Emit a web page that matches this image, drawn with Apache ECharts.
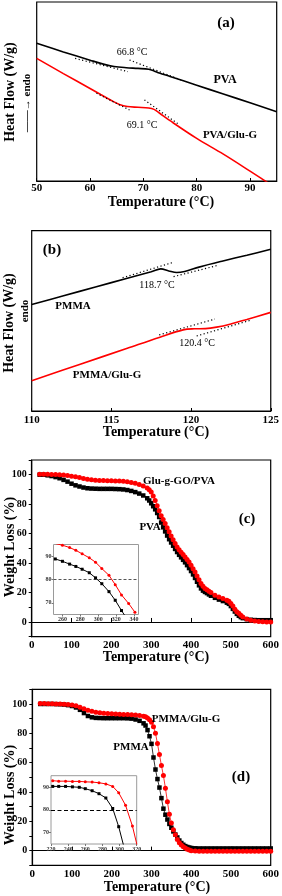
<!DOCTYPE html>
<html><head><meta charset="utf-8">
<script src="https://cdn.jsdelivr.net/npm/echarts@6/dist/echarts.min.js"></script>
<style>html,body{margin:0;padding:0;background:#fff}#c{width:282px;height:896px}</style>
</head><body><div id="c"></div>
<script>
// ---------- Panel (a): DSC, PVA ----------
const aTempPVA = [50, 55, 60, 62.5, 64.5, 66.8, 69, 71, 72, 73, 75, 80, 85, 90, 95];
const aHeatPVA = [7.69, 7.21, 6.75, 6.53, 6.40, 6.33, 6.29, 6.24, 6.15, 6.03, 5.84, 5.35, 4.86, 4.37, 3.87];
const aTempGlu = [50, 55, 60, 62, 64, 65.5, 67, 69, 71, 72, 73, 75, 80, 85, 90, 95];
const aHeatGlu = [6.85, 6.00, 5.17, 4.83, 4.50, 4.28, 4.16, 4.12, 4.08, 4.00, 3.80, 3.37, 2.38, 1.50, 0.55, -0.42];
const aTangents = [
  [[57.2, 6.85], [67.1, 6.11]],
  [[67.4, 6.76], [77.1, 5.64]],
  [[61.2, 4.90], [67.4, 3.97]],
  [[70.2, 4.53], [76.8, 3.13]]
];
const aXTicks = [50, 60, 70, 80, 90];

// ---------- Panel (b): DSC, PMMA ----------
const bTempPMMA = [110, 112, 114, 116, 117.5, 118.1, 118.6, 119.1, 119.6, 120.5, 122, 123.5, 125];
const bHeatPMMA = [5.91, 6.39, 6.88, 7.36, 7.72, 7.88, 7.77, 7.68, 7.74, 7.98, 8.32, 8.64, 8.97];
const bTempGlu = [110, 113, 116, 118, 119.5, 120.2, 120.9, 121.6, 122.5, 123.5, 125];
const bHeatGlu = [1.68, 2.58, 3.48, 4.08, 4.50, 4.56, 4.57, 4.65, 4.83, 5.08, 5.47];
const bTangents = [
  [[115.7, 7.39], [118.9, 8.25]],
  [[118.9, 7.45], [121.6, 8.06]],
  [[118.0, 4.22], [121.5, 5.10]],
  [[120.35, 4.16], [123.8, 5.05]]
];

// ---------- Panel (c): TGA, PVA ----------
const cTemp = [20,30,40,50,60,70,80,90,100,110,120,130,140,150,160,170,180,190,200,210,220,230,240,250,260,270,280,290,
  295,300,305,310,315,320,325,330,335,340,345,350,355,360,365,370,375,380,385,390,395,400,405,410,415,420,425,430,435,440,445,450,
  460,470,480,490,495,500,505,510,515,520,525,530,540,550,560,570,580,590,600];
const cPVA = [100,100,99.6,99.1,98.4,97.6,96.5,95.3,93.9,92.8,92.0,91.3,90.8,90.6,90.5,90.4,90.4,90.4,90.4,90.3,90.2,90.0,89.6,89.0,88.2,87.2,85.9,84.0,
  82.5,80.6,78.6,76.5,74.0,71.3,67.5,64.3,61.5,58.7,56.2,54.0,51.8,49.6,47.5,45.6,43.9,42.2,40.5,38.6,36.6,34.6,32.3,29.9,27.3,24.9,22.8,21.3,20.4,19.6,18.7,17.8,
  16.4,15.2,14.2,13.1,12.3,10.8,8.9,7.1,5.5,4.2,3.3,2.6,1.9,1.5,1.3,1.2,1.2,1.2,1.2];
const cGlu = [100.4,100.4,100.3,100.2,100.1,100.0,99.8,99.4,99.0,98.6,98.1,97.5,97.0,96.6,96.3,96.1,96.0,95.9,95.9,95.8,95.7,95.5,95.2,94.8,94.2,93.4,92.4,90.9,
  89.8,88.2,85.6,82.5,79.0,75.6,72.2,69.6,66.8,64.0,61.2,58.4,55.8,53.3,51.0,49.0,47.3,45.8,44.2,42.5,40.8,38.6,36.2,33.9,31.2,28.6,26.2,24.2,22.7,21.8,20.9,20.1,
  18.2,16.9,16.0,14.8,14.0,12.6,10.9,8.7,7.0,5.9,4.5,3.4,2.1,1.2,0.6,0.3,0.1,0,0];
// inset (c)
const ciTemp = [252, 260, 268, 275, 282, 290, 297, 304, 312, 319, 326, 334, 341];
const ciGlu = [95.4, 94.7, 93.7, 92.5, 91.0, 89.3, 87.4, 84.7, 81.8, 77.8, 73.4, 69.7, 66.0];
const ciPVA = [88.8, 87.8, 86.6, 85.6, 84.4, 82.9, 80.7, 78.2, 74.8, 71.1, 66.7, 62.0, 57.5];
const ciXTicks = [260, 280, 300, 320, 340];

// ---------- Panel (d): TGA, PMMA ----------
const dTemp = [20,30,40,50,60,70,80,90,100,110,120,130,140,150,160,170,180,190,200,210,220,230,240,250,260,270,280,285,290,295,
  300,305,310,315,320,325,330,335,340,345,350,355,360,365,370,375,380,385,390,395,400,410,420,430,440,450,460,470,480,490,500,
  510,520,530,540,550,560,570,580,590,600];
const dPMMA = [100,100,100,100,99.9,99.8,99.6,99.2,98.6,97.6,96.0,93.8,91.8,90.9,90.5,90.4,90.3,90.3,90.3,90.3,90.3,90.3,90.2,90.0,89.4,88.5,86.8,85.3,82.2,78.0,
  72.8,63.5,55.3,48.8,43.0,35.8,28.6,24.5,21.2,18.2,15.6,13.1,11.0,9.0,6.9,5.2,4.0,3.1,2.5,2.1,1.8,1.6,1.5,1.5,1.5,1.5,1.5,1.5,1.5,1.5,1.5,
  1.5,1.5,1.5,1.5,1.5,1.5,1.5,1.5,1.5,1.5];
const dGlu = [100.3,100.3,100.2,100.1,100.0,99.9,99.8,99.6,99.3,98.7,97.8,96.8,95.8,95.0,94.4,94.0,93.7,93.5,93.3,93.2,93.0,92.9,92.8,92.7,92.5,92.2,91.7,91.2,90.5,89.3,
  87.6,84.5,80.0,73.0,65.5,58.0,51.2,42.6,33.4,24.8,18.8,14.2,10.8,7.6,5.3,3.8,2.7,1.8,1.0,0.4,0,-0.3,-0.5,-0.5,-0.5,-0.5,-0.5,-0.5,-0.5,-0.5,-0.5,
  -0.5,-0.5,-0.5,-0.5,-0.5,-0.5,-0.5,-0.5,-0.5,-0.5];
// inset (d)
const diTemp = [222, 229, 237, 245, 253, 260, 268, 276, 284, 292, 299, 307, 315, 322];
const diGlu = [92.8, 92.6, 92.6, 92.5, 92.5, 92.3, 92.2, 91.9, 91.4, 90.3, 87.5, 82.0, 72.9, 62.0];
const diPMMA = [90.3, 90.3, 90.3, 90.1, 89.9, 89.3, 88.4, 87.1, 85.2, 80.6, 72.6, 61.0, 50.0, 40.0];
const diXTicks = [220, 240, 260, 280, 300, 320];

const insetYTicks = [70, 80, 90];
const tgaYLabels = [0, 20, 40, 60, 80, 100];

// ---------- build ----------
const FONT = '"Liberation Serif","Times New Roman",serif';
const pairs = (xs, ys) => xs.map((x, i) => [x, ys[i]]);
const RED = '#ff0000';

const mainGrid = (l, t, w, h) => ({left: l, top: t, width: w, height: h, show: true, borderColor: '#000', borderWidth: 1.2, backgroundColor: 'transparent'});
const insetGrid = (l, t, w, h) => ({left: l, top: t, width: w, height: h, show: true, borderColor: '#9a9a9a', borderWidth: 1, backgroundColor: '#fff', z: 5});

const boldLbl = {fontFamily: FONT, fontWeight: 'bold', fontSize: 11, color: '#000'};

function mainX(gi, min, max, opts) {
  return Object.assign({
    gridIndex: gi, type: 'value', min: min, max: max,
    axisLine: {show: true, lineStyle: {color: '#000', width: 1.2}},
    axisTick: {show: true, inside: true, length: 3, lineStyle: {color: '#000'}},
    axisLabel: Object.assign({margin: 3}, boldLbl),
    splitLine: {show: false}
  }, opts);
}
function hiddenY(gi, min, max) {
  return {gridIndex: gi, type: 'value', min: min, max: max, show: false, splitLine: {show: false}};
}
function tgaY(gi) {
  return {
    gridIndex: gi, type: 'value', min: -10, max: 110, interval: 10,
    axisLine: {show: true, lineStyle: {color: '#000', width: 1.2}},
    axisTick: {show: true, inside: false, length: 3, lineStyle: {color: '#000'}},
    axisLabel: Object.assign({}, boldLbl, {fontSize: 10, margin: 5, formatter: v => (tgaYLabels.indexOf(v) >= 0 ? String(v) : '')}),
    splitLine: {show: false}
  };
}
function insetX(gi, min, max, ticks) {
  return {
    gridIndex: gi, type: 'value', min: min, max: max, z: 6,
    axisLine: {show: false},
    axisTick: {show: true, inside: false, length: 2, customValues: ticks, lineStyle: {color: '#777'}},
    axisLabel: {customValues: ticks, fontFamily: FONT, fontSize: 6, fontWeight: 'bold', color: '#333', margin: 2},
    splitLine: {show: false}
  };
}
function insetY(gi) {
  return {
    gridIndex: gi, type: 'value', min: 65, max: 95, z: 6,
    axisLine: {show: false},
    axisTick: {show: true, inside: false, length: 2, customValues: insetYTicks, lineStyle: {color: '#777'}},
    axisLabel: {customValues: insetYTicks, fontFamily: FONT, fontSize: 6, fontWeight: 'bold', color: '#333', margin: 2},
    splitLine: {show: false}
  };
}

const curve = (xi, data, color) => ({type: 'line', xAxisIndex: xi, yAxisIndex: xi, data: data, smooth: 0.35, symbol: 'none', lineStyle: {color: color, width: 1.6}, z: 3});
const dotted = (xi, seg) => ({type: 'line', xAxisIndex: xi, yAxisIndex: xi, data: seg, symbol: 'none', lineStyle: {color: '#000', width: 1.2, type: [1.2, 2.4]}, z: 4});
const marks = (xi, data, color, sym, size, lw) => ({type: 'line', xAxisIndex: xi, yAxisIndex: xi, data: data, symbol: sym, symbolSize: size, itemStyle: {color: color}, lineStyle: {color: color, width: lw}, z: xi >= 4 ? 7 : 3});

const series = [
  curve(0, pairs(aTempPVA, aHeatPVA), '#000'),
  curve(0, pairs(aTempGlu, aHeatGlu), RED),
  ...aTangents.map(s => dotted(0, s)),
  curve(1, pairs(bTempPMMA, bHeatPMMA), '#000'),
  curve(1, pairs(bTempGlu, bHeatGlu), RED),
  ...bTangents.map(s => dotted(1, s)),
  marks(2, pairs(cTemp, cPVA), '#000', 'rect', 4.5, 0.8),
  marks(2, pairs(cTemp, cGlu), RED, 'circle', 5, 0.8),
  marks(3, pairs(dTemp, dPMMA), '#000', 'rect', 4.5, 0.8),
  marks(3, pairs(dTemp, dGlu), RED, 'circle', 5, 0.8),
  Object.assign(marks(4, pairs(ciTemp, ciPVA), '#000', 'rect', 3, 1), {
    markLine: {silent: true, symbol: 'none', label: {show: false}, lineStyle: {type: [3, 2], color: '#555', width: 1}, data: [{yAxis: 80}]}
  }),
  marks(4, pairs(ciTemp, ciGlu), RED, 'circle', 3, 1),
  Object.assign(marks(5, pairs(diTemp, diPMMA), '#000', 'rect', 3, 1), {
    markLine: {silent: true, symbol: 'none', label: {show: false}, lineStyle: {type: [4, 2.5], color: '#000', width: 1}, data: [{yAxis: 80}]}
  }),
  marks(5, pairs(diTemp, diGlu), RED, 'circle', 3, 1)
];

function txt(text, x, y, size, bold, opts) {
  return Object.assign({
    type: 'text', x: x, y: y, z: 20,
    style: {text: text, font: (bold ? 'bold ' : '') + size + 'px ' + FONT, fill: '#000', align: 'center', verticalAlign: 'middle'}
  }, opts || {});
}
const rot = {rotation: Math.PI / 2};
const TEMP = 'Temperature (\u00B0C)';

const graphic = [
  // (a)
  txt('(a)', 226, 23, 15, true),
  txt('66.8 \u00B0C', 132, 52, 10, false),
  txt('PVA', 225, 80, 12, true),
  txt('69.1 \u00B0C', 142, 125, 10, false),
  txt('PVA/Glu-G', 230, 135, 11, true),
  txt('Heat Flow (W/g)', 10, 92, 14, true, rot),
  txt('\u2014\u2014\u2192 endo', 27, 103, 11, true, rot),
  txt(TEMP, 161, 202, 14, true),
  // (b)
  txt('(b)', 52, 250, 15, true),
  txt('118.7 \u00B0C', 157, 285, 10, false),
  txt('PMMA', 73, 306, 11, true),
  txt('120.4 \u00B0C', 197, 343, 10, false),
  txt('PMMA/Glu-G', 107, 375, 11, true),
  txt('Heat Flow (W/g)', 9, 323, 14, true, rot),
  txt('endo', 25, 311, 11, true, rot),
  txt(TEMP, 156, 432, 14, true),
  // (c)
  txt('Glu-g-GO/PVA', 179, 481, 11, true),
  txt('PVA', 150, 527, 11, true),
  txt('(c)', 247, 519, 15, true),
  txt('Weight Loss (%)', 10, 547, 14, true, rot),
  txt(TEMP, 156, 657, 14, true),
  // (d)
  txt('PMMA/Glu-G', 186, 719, 11, true),
  txt('PMMA', 131, 747, 11, true),
  txt('(d)', 241, 777, 15, true),
  txt('Weight Loss (%)', 10, 795, 14, true, rot),
  txt(TEMP, 157, 887, 14, true)
];

const chart = echarts.init(document.getElementById('c'), null, {renderer: 'canvas'});
chart.setOption({
  animation: false,
  backgroundColor: '#fff',
  grid: [
    mainGrid(36.7, 2, 240, 179),
    mainGrid(31.7, 230.7, 241.6, 180.3),
    mainGrid(31.7, 460, 239, 176.7),
    mainGrid(32.3, 689.3, 238.4, 176),
    insetGrid(53.5, 544.5, 85, 70),
    insetGrid(51, 775.7, 85.7, 68.3)
  ],
  xAxis: [
    mainX(0, 50, 95, {axisTick: {show: true, inside: true, length: 3, customValues: aXTicks, lineStyle: {color: '#000'}},
      axisLabel: Object.assign({margin: 2, customValues: aXTicks}, boldLbl)}),
    mainX(1, 110, 125, {interval: 5, axisLabel: Object.assign({margin: 4}, boldLbl)}),
    mainX(2, 0, 600, {interval: 100, axisTick: {show: true, inside: true, length: 4, lineStyle: {color: '#000'}}}),
    mainX(3, 0, 600, {interval: 100, axisTick: {show: true, inside: true, length: 4, lineStyle: {color: '#000'}}}),
    insetX(4, 250, 345, ciXTicks),
    insetX(5, 220, 320, diXTicks)
  ],
  yAxis: [
    hiddenY(0, 0, 10),
    hiddenY(1, 0, 10),
    tgaY(2),
    tgaY(3),
    insetY(4),
    insetY(5)
  ],
  series: series,
  graphic: graphic
});
</script></body></html>
